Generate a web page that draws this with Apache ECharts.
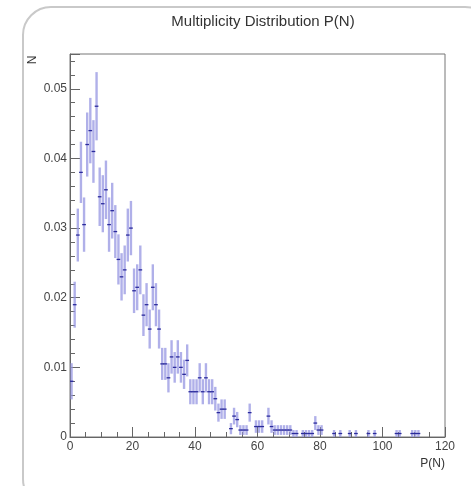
<!DOCTYPE html>
<html>
<head>
<meta charset="utf-8">
<script src="https://cdn.jsdelivr.net/npm/echarts@6/dist/echarts.min.js"></script>
<style>
html,body{margin:0;padding:0;background:#fff;}
#chart{width:471px;height:486px;}
</style>
</head>
<body>
<div id="chart"></div>
<script>
// Histogram bins (lower edge of each filled bin, bin width 1)
const binLow = [0,1,2,3,4,5,6,7,8,9,10,11,12,13,14,15,16,17,18,19,20,21,22,23,24,25,26,27,28,29,
  30,31,32,33,34,35,36,37,38,39,40,41,42,43,44,45,46,47,48,49,51,52,53,54,55,56,57,59,60,61,
  63,64,65,66,67,68,69,70,71,72,74,75,76,77,78,79,80,84,86,89,91,95,97,104,105,109,110,111];
// Normalised content P(N) of each bin
const binValue = [0.0080,0.0190,0.0290,0.0380,0.0305,0.0420,0.0440,0.0410,0.0475,0.0345,0.0335,0.0355,0.0305,0.0325,0.0295,
  0.0255,0.0230,0.0240,0.0290,0.0300,0.0210,0.0215,0.0240,0.0175,0.0190,0.0155,0.0215,0.0190,0.0155,0.0105,
  0.0105,0.0085,0.0115,0.0100,0.0115,0.0100,0.0090,0.0110,0.0065,0.0065,0.0065,0.0085,0.0065,0.0085,0.0065,
  0.0065,0.0055,0.0035,0.0040,0.0040,0.0012,0.0030,0.0025,0.0010,0.0010,0.0010,0.0035,0.0015,0.0015,0.0015,
  0.0030,0.0015,0.0010,0.0010,0.0010,0.0010,0.0010,0.0010,0.0005,0.0005,0.0005,0.0005,0.0005,0.0005,0.0020,
  0.0010,0.0010,0.0005,0.0005,0.0005,0.0005,0.0005,0.0005,0.0005,0.0005,0.0005,0.0005,0.0005];
// Error of each bin
const binError = [0.0026,0.0033,0.0038,0.0044,0.0039,0.0046,0.0047,0.0045,0.0049,0.0042,0.0041,0.0042,0.0039,0.0040,0.0038,
  0.0036,0.0034,0.0035,0.0038,0.0039,0.0032,0.0033,0.0035,0.0030,0.0031,0.0028,0.0033,0.0031,0.0028,0.0023,
  0.0023,0.0021,0.0024,0.0022,0.0024,0.0022,0.0021,0.0023,0.0018,0.0018,0.0018,0.0021,0.0018,0.0021,0.0018,
  0.0018,0.0017,0.0013,0.0014,0.0014,0.0008,0.0012,0.0011,0.0007,0.0007,0.0007,0.0013,0.0009,0.0009,0.0009,
  0.0012,0.0009,0.0007,0.0007,0.0007,0.0007,0.0007,0.0007,0.0005,0.0005,0.0005,0.0005,0.0005,0.0005,0.0010,
  0.0007,0.0007,0.0005,0.0005,0.0005,0.0005,0.0005,0.0005,0.0005,0.0005,0.0005,0.0005,0.0005];
const binWidth = 1;
const xTickLabels = ['0','20','40','60','80','100','120'];
const yTickLabels = ['0','0.01','0.02','0.03','0.04','0.05'];

const chart = echarts.init(document.getElementById('chart'), null, {renderer:'canvas'});
const data = binLow.map((b,i)=>[b, binValue[i], binError[i]]);
const FONT = "'Liberation Sans Narrow','Liberation Sans',Arial,sans-serif";

const option = {
  animation:false,
  backgroundColor:'#ffffff',
  title:{
    text:'Multiplicity Distribution P(N)',
    left:258, top:9, textAlign:'center',
    textStyle:{fontFamily:FONT, fontSize:15, fontWeight:'normal', color:'#333'}
  },
  grid:{left:70, right:26, top:54, bottom:49, show:true, borderColor:'#777', borderWidth:1, backgroundColor:'transparent'},
  xAxis:{
    type:'value', min:0, max:120, interval:20,
    name:'P(N)', nameLocation:'end', nameGap:0,
    nameTextStyle:{fontFamily:FONT, fontSize:12, color:'#333', align:'right', verticalAlign:'top', padding:[21,0,0,0]},
    axisLine:{show:true, lineStyle:{color:'#666', width:1}},
    axisTick:{show:true, inside:true, length:10, lineStyle:{color:'#666'}},
    minorTick:{show:true, splitNumber:4, length:5, lineStyle:{color:'#666'}},
    splitLine:{show:false},
    axisLabel:{fontFamily:FONT, fontSize:12, color:'#444', margin:4,
      formatter:(v)=>{const s=String(Math.round(v)); return xTickLabels.includes(s)?s:'';}}
  },
  yAxis:{
    type:'value', min:0, max:0.055, interval:0.01,
    axisLine:{show:true, lineStyle:{color:'#666', width:1}},
    axisTick:{show:true, inside:true, length:10, lineStyle:{color:'#666'}},
    minorTick:{show:true, splitNumber:5, length:5, lineStyle:{color:'#666'}},
    splitLine:{show:false},
    axisLabel:{fontFamily:FONT, fontSize:12, color:'#444', margin:3,
      formatter:(v)=>{const s = v===0?'0':(Math.round(v*100)/100).toFixed(2); return (yTickLabels.includes(s) && Math.abs(v*100-Math.round(v*100))<1e-6)?s:'';}}
  },
  graphic:[
    {type:'rect', z:-10, shape:{x:23, y:7, width:470, height:500, r:28},
      style:{fill:'none', stroke:'#c9c9c9', lineWidth:2}},
    {type:'text', x:33, y:60, rotation:Math.PI/2, style:{text:'N', fontFamily:FONT, fontSize:12, fill:'#333', align:'center', verticalAlign:'middle'}}
  ],
  series:[{
    type:'custom',
    data:data,
    clip:true,
    renderItem:(params, api)=>{
      const lo = api.value(0), v = api.value(1), e = api.value(2);
      const top = api.coord([lo+binWidth/2, v+e]);
      const bot = api.coord([lo+binWidth/2, v-e]);
      const l = api.coord([lo, v]);
      const r = api.coord([lo+binWidth, v]);
      return {type:'group', children:[
        {type:'line', shape:{x1:top[0], y1:top[1], x2:bot[0], y2:bot[1]},
          style:{stroke:'rgba(150,150,225,0.75)', lineWidth:2.4}},
        {type:'line', shape:{x1:l[0]-0.3, y1:l[1], x2:r[0]+0.3, y2:r[1]},
          style:{stroke:'#2b2b9c', lineWidth:1.3}}
      ]};
    }
  }]
};
chart.setOption(option);
</script>
</body>
</html>
